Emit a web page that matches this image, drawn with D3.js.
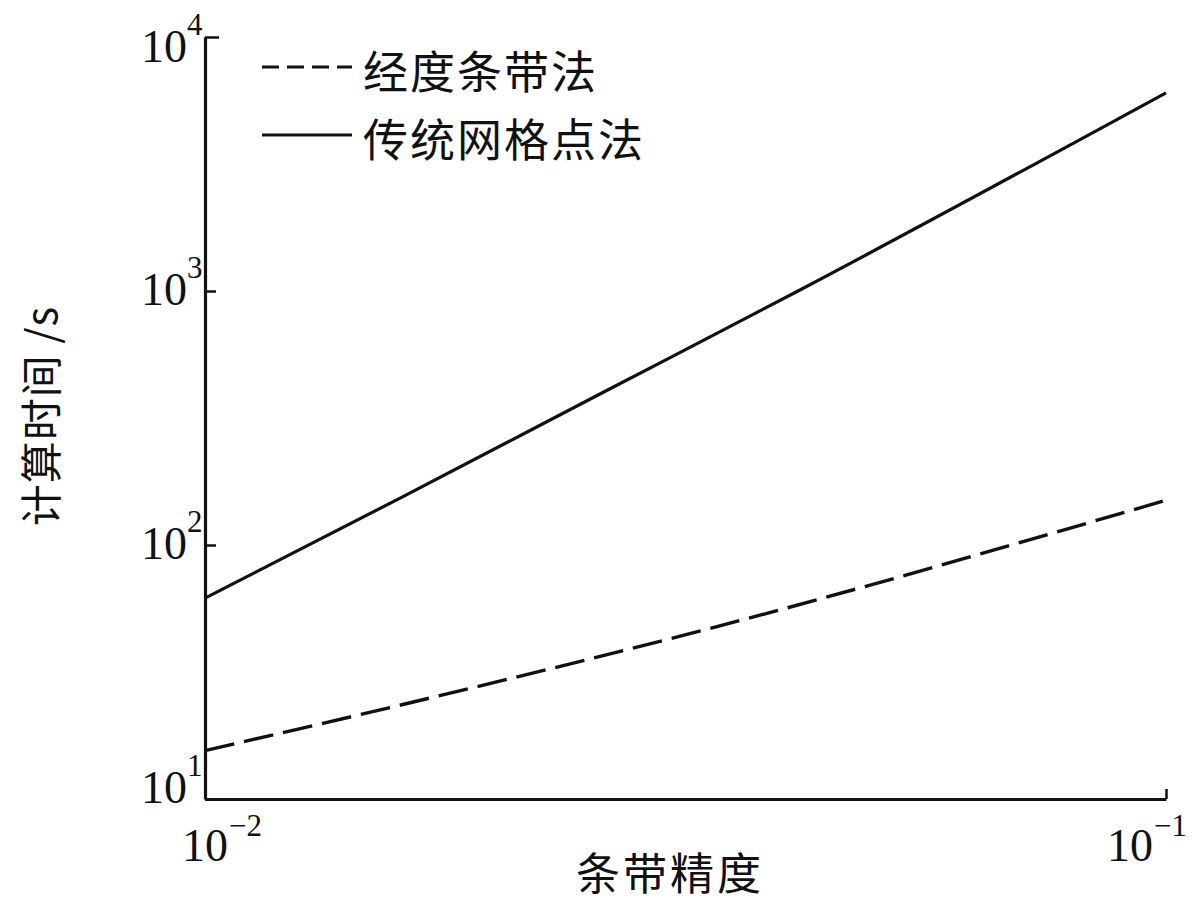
<!DOCTYPE html>
<html>
<head>
<meta charset="utf-8">
<script src="https://cdn.jsdelivr.net/npm/d3@7/dist/d3.min.js"></script>
<style>
  html, body { margin: 0; padding: 0; background: #fff; }
  svg { display: block; }
</style>
</head>
<body>
<svg id="chart" width="1200" height="907"></svg>
<script>
// ---- data ----
const seriesNames = ["经度条带法", "传统网格点法"];
const stripX = [0.01, 0.01799, 0.0327, 0.1];
const stripY = [15.5, 26.1, 45.8, 150];
const gridX = [0.01, 0.01596, 0.02576, 0.0416, 0.1];
const gridY = [61.8, 153, 393, 1009, 6030];
const xTicks = [0.01, 0.1];
const xTickExp = ["\u22122", "\u22121"];
const yTicks = [10, 100, 1000, 10000];
const yTickExp = ["1", "2", "3", "4"];
const xTitle = "条带精度";
const yTitle = "计算时间 /s";

// ---- layout ----
const svg = d3.select("#chart");
const L = 205, R = 1166, T = 37, B = 799;
const x = d3.scaleLog().domain([0.01, 0.1]).range([L, R]);
const y = d3.scaleLog().domain([10, 10000]).range([B, T]);
const serif = "'Liberation Serif','Times New Roman',serif";
const cjk = "'Noto Sans CJK SC','Noto Sans CJK JP',sans-serif";

// axes
const yAxis = d3.axisLeft(y).tickValues(yTicks).tickSizeInner(-11).tickSizeOuter(0).tickFormat("");
const gy = svg.append("g").attr("transform", `translate(${L},0)`).call(yAxis);
const xAxis = d3.axisBottom(x).tickValues(xTicks).tickSizeInner(-10).tickSizeOuter(0).tickFormat("");
const gx = svg.append("g").attr("transform", `translate(0,${B})`).call(xAxis);
[gx, gy].forEach(g => {
  g.select(".domain").attr("stroke", "#111").attr("stroke-width", 3.2);
  g.selectAll(".tick line").attr("stroke", "#111").attr("stroke-width", 2.5);
});
gy.selectAll(".tick").filter(d => d === 10000).select("line").attr("x2", 14);

// y tick labels
yTicks.forEach((v, i) => {
  const off = i === yTicks.length - 1 ? 25 : (i === 0 ? 4 : 14);
  const t = svg.append("text")
    .attr("x", 141).attr("y", y(v) + off)
    .attr("font-family", serif).attr("font-size", 46).attr("fill", "#111");
  t.append("tspan").text("10");
  t.append("tspan").attr("dy", -27).attr("font-size", 31).text(yTickExp[i]);
});

// x tick labels
xTicks.forEach((v, i) => {
  const dx = i === 0 ? -23 : -59;
  const t = svg.append("text")
    .attr("x", x(v) + dx).attr("y", 861)
    .attr("font-family", serif).attr("font-size", 46).attr("fill", "#111");
  t.append("tspan").text("10");
  t.append("tspan").attr("dx", 1).attr("dy", -25).attr("font-size", 31).text(xTickExp[i]);
});

// axis titles
svg.append("text")
  .attr("x", 670).attr("y", 871)
  .attr("text-anchor", "middle").attr("dominant-baseline", "central")
  .attr("font-family", cjk).attr("font-size", 44).attr("letter-spacing", 3)
  .attr("fill", "#111").text(xTitle);
svg.append("text")
  .attr("transform", "translate(38,416) rotate(-90)")
  .attr("text-anchor", "middle").attr("dominant-baseline", "central")
  .attr("font-family", cjk).attr("font-size", 42).attr("letter-spacing", 1)
  .attr("fill", "#111").text(yTitle);

// lines
const line = d3.line().x(d => x(d[0])).y(d => y(d[1])).curve(d3.curveMonotoneX);
const stripData = stripX.map((v, i) => [v, stripY[i]]);
const gridData = gridX.map((v, i) => [v, gridY[i]]);

svg.append("path").datum(stripData)
  .attr("d", line).attr("fill", "none").attr("stroke", "#111")
  .attr("stroke-width", 3.4).attr("stroke-dasharray", "30,10");
svg.append("path").datum(gridData)
  .attr("d", line).attr("fill", "none").attr("stroke", "#111")
  .attr("stroke-width", 3.2);

// legend
const leg = [
  { name: seriesNames[0], dash: "17,8", yy: 67 },
  { name: seriesNames[1], dash: null, yy: 135 }
];
leg.forEach(e => {
  const ln = svg.append("line").attr("x1", 262).attr("x2", 352)
    .attr("y1", e.yy).attr("y2", e.yy).attr("stroke", "#111").attr("stroke-width", 3);
  if (e.dash) ln.attr("stroke-dasharray", e.dash);
  svg.append("text").attr("x", 363).attr("y", e.yy + 2)
    .attr("dominant-baseline", "central")
    .attr("font-family", cjk).attr("font-size", 45).attr("letter-spacing", 2)
    .attr("fill", "#111").text(e.name);
});
</script>
</body>
</html>
